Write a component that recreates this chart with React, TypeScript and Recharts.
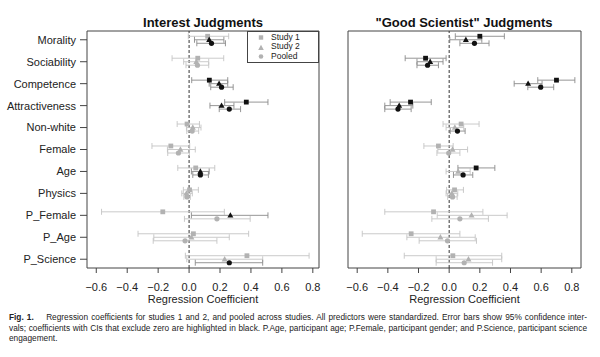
import {
  ScatterChart,
  Scatter,
  XAxis,
  YAxis,
  ErrorBar,
  ReferenceLine,
  ReferenceArea,
  Legend,
} from "recharts";

// predictor names, top to bottom
const CATEGORIES = [
  "Morality",
  "Sociability",
  "Competence",
  "Attractiveness",
  "Non-white",
  "Female",
  "Age",
  "Physics",
  "P_Female",
  "P_Age",
  "P_Science",
];

// [estimate, CI low, CI high] per predictor
const interestStudy1 = [
  [0.12, -0.005, 0.256], [0.056, -0.11, 0.224], [0.131, 0.017, 0.25], [0.37, 0.23, 0.51],
  [-0.013, -0.077, 0.067], [-0.118, -0.24, 0.004], [0.043, -0.073, 0.166], [0.003, -0.037, 0.06],
  [-0.17, -0.566, 0.228], [0.028, -0.33, 0.385], [0.374, -0.024, 0.776],
];
const interestStudy2 = [
  [0.13, 0.035, 0.225], [0.047, -0.035, 0.127], [0.194, 0.13, 0.25], [0.21, 0.135, 0.29],
  [0.024, -0.017, 0.077], [-0.056, -0.14, 0.04], [0.073, 0.015, 0.13], [-0.017, -0.047, 0.021],
  [0.267, 0.015, 0.51], [0.015, -0.228, 0.26], [0.23, -0.015, 0.476],
];
const interestPooled = [
  [0.145, 0.05, 0.235], [0.054, -0.02, 0.127], [0.21, 0.14, 0.285], [0.26, 0.195, 0.333],
  [0.02, -0.015, 0.062], [-0.069, -0.138, 0.002], [0.073, 0.024, 0.125], [-0.013, -0.034, 0.008],
  [0.18, -0.03, 0.395], [-0.026, -0.232, 0.18], [0.26, 0.04, 0.476],
];
const scientistStudy1 = [
  [0.2, 0.04, 0.36], [-0.154, -0.287, -0.02], [0.7, 0.578, 0.82], [-0.252, -0.385, -0.117],
  [0.078, -0.04, 0.195], [-0.07, -0.165, 0.026], [0.176, 0.057, 0.298], [0.035, -0.017, 0.093],
  [-0.102, -0.42, 0.22], [-0.248, -0.567, 0.07], [0.024, -0.293, 0.343],
];
const scientistStudy2 = [
  [0.109, 0.004, 0.213], [-0.124, -0.21, -0.04], [0.515, 0.424, 0.606], [-0.326, -0.42, -0.237],
  [0.037, -0.02, 0.095], [0.022, -0.074, 0.12], [0.059, -0.02, 0.137], [0.017, -0.02, 0.056],
  [0.146, -0.078, 0.378], [-0.057, -0.276, 0.17], [0.126, -0.085, 0.343],
];
const scientistPooled = [
  [0.165, 0.07, 0.26], [-0.141, -0.21, -0.07], [0.597, 0.513, 0.682], [-0.334, -0.42, -0.248],
  [0.054, 0.007, 0.104], [-0.003, -0.08, 0.07], [0.091, 0.028, 0.154], [0.022, -0.01, 0.052],
  [0.07, -0.113, 0.256], [-0.011, -0.196, 0.178], [0.098, -0.085, 0.283],
];

const X_TICKS = [-0.6, -0.4, -0.2, 0, 0.2, 0.4, 0.6, 0.8];
const Y_TICKS = CATEGORIES.map((_c, i) => i);

const FONT = "'Liberation Sans', Arial, sans-serif";
const GRAY = "#b2b2b2";
const GRAY_BAR = "#c4c4c4";
const BLACK = "#111111";
const BLACK_BAR = "#8a8a8a";

const SERIES = [
  { name: "Study 1", shape: "square", offset: -0.16 },
  { name: "Study 2", shape: "triangle", offset: 0 },
  { name: "Pooled", shape: "circle", offset: 0.16 },
];

// significant = CI excludes zero -> drawn in black
function buildPoints(rows: number[][], offset: number, black: boolean) {
  return rows
    .map((r, i) => ({
      x: r[0],
      y: i + offset,
      err: [r[0] - r[1], r[2] - r[0]],
      sig: r[1] > 0 || r[2] < 0,
    }))
    .filter((p) => p.sig === black);
}

const fmtX = (v: number) => {
  const s = Math.abs(v).toFixed(1);
  return v < -0.0001 ? "\u2212" + s : s;
};

// small R-style pch 15 / 17 / 19 markers
function makeShape(shape: string, fill: string) {
  // eslint-disable-next-line @typescript-eslint/no-explicit-any
  return (props: any) => {
    const { cx, cy } = props;
    if (cx == null || cy == null) return <g />;
    if (shape === "square") return <rect x={cx - 2.4} y={cy - 2.4} width={4.8} height={4.8} fill={fill} />;
    if (shape === "triangle")
      return <polygon points={`${cx},${cy - 3.2} ${cx + 3},${cy + 2.2} ${cx - 3},${cy + 2.2}`} fill={fill} />;
    return <circle cx={cx} cy={cy} r={2.6} fill={fill} />;
  };
}

function LegendBox() {
  const marker = (shape: string) => (
    <svg width={8} height={7} style={{ marginRight: 6, flex: "none" }}>
      {shape === "square" && <rect x={1.8} y={1.3} width={4.4} height={4.4} fill={GRAY} />}
      {shape === "triangle" && <polygon points="4,0.8 6.8,6 1.2,6" fill={GRAY} />}
      {shape === "circle" && <circle cx={4} cy={3.5} r={2.3} fill={GRAY} />}
    </svg>
  );
  return (
    <div
      style={{
        border: "1px solid #444",
        background: "#fff",
        width: 70,
        height: 29.5,
        paddingTop: 0.5,
        boxSizing: "content-box",
        fontFamily: FONT,
        fontSize: 8.5,
        color: "#222",
      }}
    >
      {SERIES.map((s) => (
        <div key={s.name} style={{ display: "flex", alignItems: "center", height: 9.8, paddingLeft: 9 }}>
          {marker(s.shape)}
          <span style={{ lineHeight: "9.8px" }}>{s.name}</span>
        </div>
      ))}
    </div>
  );
}

function Panel({
  study1,
  study2,
  pooled,
  xMax,
  showY,
  showLegend,
  width,
  marginLeft,
  marginRight,
}: {
  study1: number[][];
  study2: number[][];
  pooled: number[][];
  xMax: number;
  showY: boolean;
  showLegend: boolean;
  width: number;
  marginLeft: number;
  marginRight: number;
}) {
  const rows = [study1, study2, pooled];
  const xMin = -0.66;
  return (
    <ScatterChart
      width={width}
      height={310}
      margin={{ top: 31, right: marginRight, bottom: 0, left: marginLeft }}
      style={{ fontFamily: FONT }}
    >
      <XAxis
        type="number"
        dataKey="x"
        domain={[xMin, xMax]}
        ticks={X_TICKS}
        tickFormatter={fmtX}
        allowDataOverflow
        axisLine={false}
        tickSize={5}
        tickMargin={10}
        height={42}
        tick={{ fontSize: 11, fill: "#222" }}
        tickLine={{ stroke: "#444" }}
        interval={0}
        label={{ value: "Regression Coefficient", position: "insideBottom", offset: 7, fontSize: 11, fill: "#222" }}
      />
      <YAxis
        type="number"
        dataKey="y"
        domain={[-0.4, 10.4]}
        reversed
        allowDataOverflow
        ticks={Y_TICKS}
        interval={0}
        tickFormatter={(i: number) => CATEGORIES[i] ?? ""}
        hide={!showY}
        width={87}
        axisLine={false}
        tickSize={7}
        tickMargin={4}
        tick={{ fontSize: 11, fill: "#222" }}
        tickLine={{ stroke: "#444" }}
      />
      <ReferenceArea
        x1={xMin}
        x2={xMax}
        y1={-0.4}
        y2={10.4}
        fill="none"
        stroke="#444"
        strokeWidth={1}
        ifOverflow="visible"
      />
      <ReferenceLine x={0} stroke="#333" strokeDasharray="3 2" strokeWidth={1} />
      {SERIES.map((s, k) => (
        <Scatter
          key={"g" + k}
          name={s.name}
          data={buildPoints(rows[k], s.offset, false)}
          shape={makeShape(s.shape, GRAY)}
          fill={GRAY}
          isAnimationActive={false}
          legendType="none"
        >
          <ErrorBar dataKey="err" direction="x" width={3} stroke={GRAY_BAR} strokeWidth={0.9} />
        </Scatter>
      ))}
      {SERIES.map((s, k) => (
        <Scatter
          key={"b" + k}
          name={s.name + " (sig)"}
          data={buildPoints(rows[k], s.offset, true)}
          shape={makeShape(s.shape, BLACK)}
          fill={BLACK}
          isAnimationActive={false}
          legendType="none"
        >
          <ErrorBar dataKey="err" direction="x" width={3} stroke={BLACK_BAR} strokeWidth={0.9} />
        </Scatter>
      ))}
      {showLegend && (
        <Legend
          layout="horizontal"
          verticalAlign="middle"
          content={() => <LegendBox />}
          wrapperStyle={{ position: "absolute", left: 247, top: 31, width: 72, height: 31 }}
        />
      )}
    </ScatterChart>
  );
}

const titleStyle: React.CSSProperties = {
  position: "absolute",
  top: 15,
  fontFamily: FONT,
  fontWeight: "bold",
  fontSize: 13,
  color: "#111",
  transform: "translateX(-50%)",
  whiteSpace: "nowrap",
};

const lineStyle: React.CSSProperties = {
  whiteSpace: "nowrap",
  height: 10.5,
  lineHeight: "10.5px",
};

export default function App() {
  return (
    <div
      style={{
        position: "absolute",
        left: 0,
        top: 0,
        width: 600,
        height: 357,
        background: "#fff",
        overflow: "hidden",
      }}
    >
      <div style={{ ...titleStyle, left: 203 }}>Interest Judgments</div>
      <div style={{ ...titleStyle, left: 464 }}>"Good Scientist" Judgments</div>
      <div style={{ position: "absolute", left: 0, top: 0 }}>
        <Panel
          study1={interestStudy1}
          study2={interestStudy2}
          pooled={interestPooled}
          xMax={0.84}
          showY
          showLegend
          width={325}
          marginLeft={0}
          marginRight={6}
        />
      </div>
      <div style={{ position: "absolute", left: 325, top: 0 }}>
        <Panel
          study1={scientistStudy1}
          study2={scientistStudy2}
          pooled={scientistPooled}
          xMax={0.86}
          showY={false}
          showLegend={false}
          width={275}
          marginLeft={23}
          marginRight={19}
        />
      </div>
      <div
        style={{
          position: "absolute",
          left: 9,
          top: 312,
          width: 578,
          fontFamily: FONT,
          fontSize: 8.3,
          color: "#222",
        }}
      >
        <div style={{ ...lineStyle, textAlign: "justify", textAlignLast: "justify" }}>
          <b>Fig. 1.</b>&nbsp;&nbsp;&nbsp; Regression coefficients for studies 1 and 2, and pooled across studies. All
          predictors were standardized. Error bars show 95% confidence inter-
        </div>
        <div style={{ ...lineStyle, textAlign: "justify", textAlignLast: "justify" }}>
          vals; coefficients with CIs that exclude zero are highlighted in black. P.Age, participant age; P.Female,
          participant gender; and P.Science, participant science
        </div>
        <div style={lineStyle}>engagement.</div>
      </div>
    </div>
  );
}
